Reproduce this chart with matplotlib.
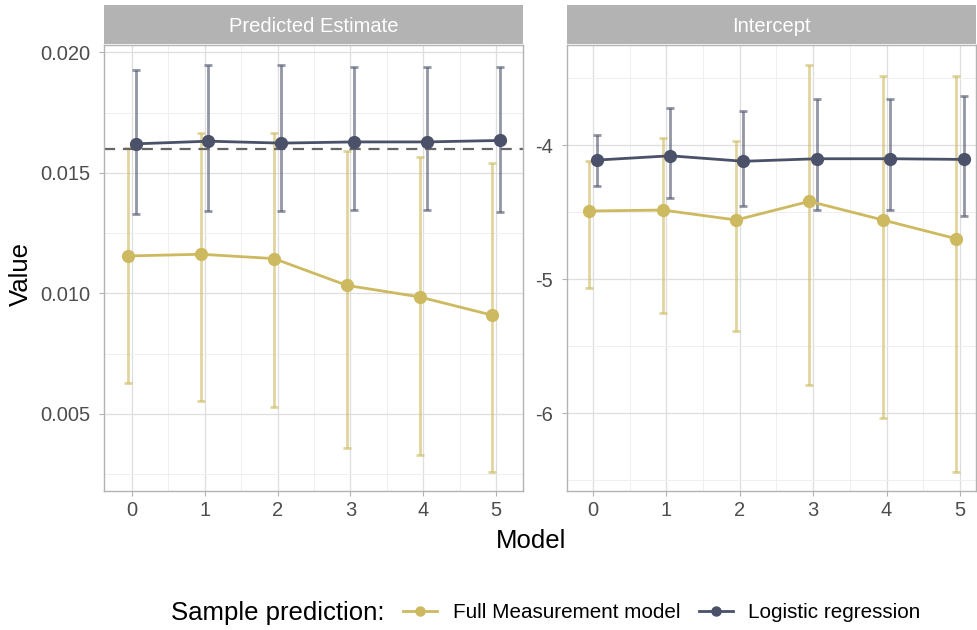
import matplotlib
matplotlib.use("Agg")
import matplotlib.pyplot as plt
from matplotlib.patches import Rectangle
from matplotlib.lines import Line2D
from matplotlib.ticker import MultipleLocator

YELLOW = "#CDB960"
NAVY = "#4A5169"
STRIP = "#B3B3B3"
BORDER = "#B3B3B3"
TICKTXT = "#4D4D4D"

plt.rcParams["font.family"] = ["Liberation Sans", "DejaVu Sans"]

models = [0, 1, 2, 3, 4, 5]
series = ["Full Measurement model", "Logistic regression"]

# Predicted Estimate panel
pe_full = [0.01155, 0.01162, 0.01144, 0.01033, 0.00985, 0.00909]
pe_full_lo = [0.00627, 0.00553, 0.00529, 0.00358, 0.00329, 0.00258]
pe_full_hi = [0.01604, 0.01667, 0.01667, 0.01591, 0.01566, 0.01540]
pe_logit = [0.01620, 0.01631, 0.01623, 0.01628, 0.01628, 0.01634]
pe_logit_lo = [0.01330, 0.01343, 0.01340, 0.01347, 0.01347, 0.01337]
pe_logit_hi = [0.01927, 0.01946, 0.01949, 0.01938, 0.01938, 0.01938]
pe_true = 0.016

# Intercept panel
ic_full = [-4.490, -4.483, -4.557, -4.418, -4.557, -4.697]
ic_full_lo = [-5.063, -5.254, -5.388, -5.789, -6.033, -6.440]
ic_full_hi = [-4.115, -3.945, -3.968, -3.398, -3.485, -3.483]
ic_logit = [-4.110, -4.078, -4.119, -4.100, -4.100, -4.105]
ic_logit_lo = [-4.304, -4.393, -4.455, -4.485, -4.485, -4.530]
ic_logit_hi = [-3.925, -3.720, -3.740, -3.657, -3.657, -3.632]

W, H = 977, 630
fig = plt.figure(figsize=(W / 100, H / 100), dpi=100)
fig.patch.set_facecolor("white")


def px(x0, y0, x1, y1):
    return [x0 / W, 1 - y1 / H, (x1 - x0) / W, (y1 - y0) / H]


def panel(rect, title, est, lo, hi, est2, lo2, hi2, xlim, ylim, major, minor, fmt):
    ax = fig.add_axes(px(*rect))
    ax.set_xlim(*xlim)
    ax.set_ylim(*ylim)
    ax.xaxis.set_major_locator(MultipleLocator(1))
    ax.xaxis.set_minor_locator(MultipleLocator(0.5))
    ax.yaxis.set_major_locator(MultipleLocator(major))
    ax.yaxis.set_minor_locator(MultipleLocator(minor))
    ax.yaxis.set_major_formatter(fmt)
    ax.grid(which="major", color="#DEDEDE", lw=0.9)
    ax.grid(which="minor", color="#EFEFEF", lw=0.7)
    ax.set_axisbelow(True)
    for s in ax.spines.values():
        s.set_color(BORDER)
        s.set_linewidth(1.0)
    ax.tick_params(which="major", length=3.5, color=BORDER, labelsize=14.5,
                   labelcolor=TICKTXT)
    ax.tick_params(axis="y", which="major", pad=6.5)
    ax.tick_params(which="minor", length=0)

    for vals, l, h, col, off in [(est, lo, hi, YELLOW, -0.05),
                                 (est2, lo2, hi2, NAVY, 0.05)]:
        xs = [m + off for m in models]
        yerr = [[v - a for v, a in zip(vals, l)], [b - v for v, b in zip(vals, h)]]
        ax.errorbar(xs, vals, yerr=yerr, fmt="none", ecolor=col, alpha=0.6,
                    elinewidth=2.0, capsize=3.2, capthick=2.0, zorder=2)
        ax.plot(xs, vals, color=col, lw=2.0, marker="o", ms=8.5, zorder=3)

    x0, y0, x1, y1 = rect
    fig.patches.append(Rectangle((x0 / W, 1 - (y0 - 1) / H), (x1 - x0) / W, 39 / H,
                                 transform=fig.transFigure, facecolor=STRIP,
                                 edgecolor="none"))
    fig.text((x0 + x1) / 2 / W, 1 - (y0 - 18) / H, title, ha="center", va="center",
             color="white", fontsize=14.5)
    return ax


ax1 = panel((104, 45, 523, 491), "Predicted Estimate",
            pe_full, pe_full_lo, pe_full_hi, pe_logit, pe_logit_lo, pe_logit_hi,
            (-0.385, 5.37), (0.0018, 0.0203), 0.005, 0.0025, "{x:.3f}")
ax1.axhline(pe_true, color="#666666", lw=1.6, ls=(0, (5, 3.5)), zorder=2.5)

ax2 = panel((566.7, 45, 976, 491), "Intercept",
            ic_full, ic_full_lo, ic_full_hi, ic_logit, ic_logit_lo, ic_logit_hi,
            (-0.36, 5.22), (-6.58, -3.251), 1, 0.5, lambda v, p: f"{v:.0f}")

fig.text(21 / W, 1 - 274 / H, "Value", rotation=90, ha="center", va="center",
         fontsize=18.5, color="black")
fig.text(531 / W, 1 - 541 / H, "Model", ha="center", va="center",
         fontsize=18.5, color="black")

# legend
fig.text(171 / W, 1 - 613 / H, "Sample prediction:", ha="left", va="center",
         fontsize=18.5)
handles = [Line2D([], [], color=YELLOW, lw=2, marker="o", ms=6.5),
           Line2D([], [], color=NAVY, lw=2, marker="o", ms=6.5)]
fig.legend(handles, series, loc="center left",
           bbox_to_anchor=(403 / W, 1 - 613 / H), ncol=2, frameon=False,
           handlelength=1.65, handletextpad=0.75, columnspacing=0.9,
           borderpad=0, borderaxespad=0, prop={"size": 14.9})

fig.savefig("out.png", dpi=100, facecolor="white")
